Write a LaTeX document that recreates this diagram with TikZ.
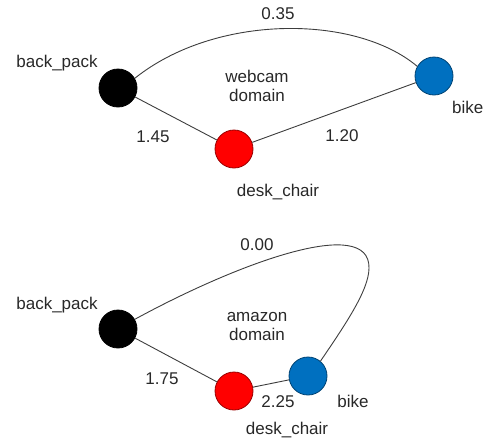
\documentclass[tikz,border=0pt]{standalone}
\usepackage{fontspec}
\setmainfont{Liberation Sans}
\definecolor{bikeblue}{RGB}{0,112,192}
\definecolor{chairred}{RGB}{255,0,0}
\definecolor{ink}{RGB}{40,40,40}
\tikzset{
  dot/.style={circle, minimum size=38pt, inner sep=0pt, line width=0.8pt},
  lbl/.style={font=\fontsize{17}{19}\selectfont, text=ink, inner sep=0pt},
  edge/.style={draw=ink!90, line width=0.9pt}
}
\begin{document}
\begin{tikzpicture}[x=1pt, y=-1pt]
\useasboundingbox (0,0) rectangle (485,440);

% ---- webcam domain ----
\node[dot, fill=black, draw=black] (bp1) at (118,88) {};
\node[dot, fill=chairred, draw=red!60!black] (dc1) at (234,149) {};
\node[dot, fill=bikeblue, draw=bikeblue!60!black] (bk1) at (434,76) {};

\node[lbl] (bpl1) at (57,63) {back\_pack};
\node[lbl] (dcl1) at (278,192) {desk\_chair};
\node[lbl, anchor=west] (bkl1) at (452,107) {bike};
\node[lbl, align=center] (dom1) at (257,86) {webcam\\domain};
\node[lbl] (w11) at (278,14) {0.35};
\node[lbl] (w12) at (153,137) {1.45};
\node[lbl] (w13) at (342,136) {1.20};

\draw[edge] (bp1) -- (dc1);
\draw[edge] (dc1) -- (bk1);
\draw[edge] (bp1.30) .. controls (215,14) and (355,14) .. (bk1.150);

% ---- amazon domain ----
\node[dot, fill=black, draw=black] (bp2) at (118,329) {};
\node[dot, fill=chairred, draw=red!60!black] (dc2) at (234,391) {};
\node[dot, fill=bikeblue, draw=bikeblue!60!black] (bk2) at (308,376) {};

\node[lbl] (bpl2) at (57,305) {back\_pack};
\node[lbl] (dcl2) at (287,430) {desk\_chair};
\node[lbl] (bkl2) at (353,401) {bike};
\node[lbl, align=center] (dom2) at (257,327) {amazon\\domain};
\node[lbl] (w21) at (257,245) {0.00};
\node[lbl] (w22) at (162,379) {1.75};
\node[lbl] (w23) at (278,402) {2.25};

\draw[edge] (bp2) -- (dc2);
\draw[edge] (dc2) -- (bk2);
\coordinate (turn) at (369,268);
\draw[edge] (bp2.30) .. controls (240,262) and (370,215) .. (turn)
  .. controls (369,290) and (345,325) .. (bk2.50);
\end{tikzpicture}
\end{document}
